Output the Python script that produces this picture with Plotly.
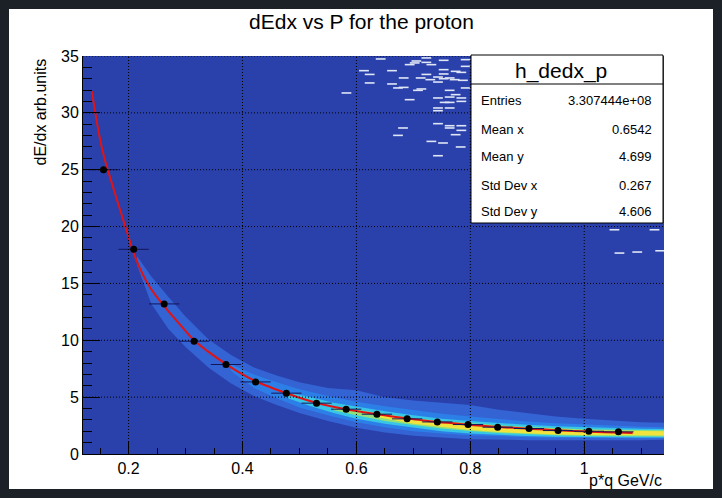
import plotly.graph_objects as go

# ---------------- data ----------------
# profile points (black markers with horizontal error bars)
pts_x = [0.156, 0.209, 0.2625, 0.315, 0.371, 0.423, 0.477, 0.530, 0.582,
         0.636, 0.689, 0.742, 0.796, 0.848, 0.903, 0.954, 1.008, 1.060]
pts_y = [25.0, 18.0, 13.2, 9.92, 7.87, 6.34, 5.35, 4.47, 3.94,
         3.50, 3.09, 2.82, 2.59, 2.36, 2.24, 2.06, 2.00, 1.95]
pts_xerr = [0.0266] * 18

# red fit curve
fit_x = [0.1356, 0.1537, 0.175, 0.195, 0.2133, 0.237, 0.2625, 0.29, 0.315, 0.34,
         0.371, 0.40, 0.423, 0.45, 0.477, 0.50, 0.53, 0.555, 0.582, 0.61, 0.636,
         0.66, 0.689, 0.715, 0.742, 0.77, 0.796, 0.82, 0.848, 0.875, 0.903, 0.93,
         0.954, 0.98, 1.008, 1.035, 1.06, 1.085]
fit_y = [31.9, 26.8, 23.1, 19.9, 17.1, 14.7, 13.0, 11.4, 10.0, 9.0,
         7.9, 7.0, 6.4, 5.85, 5.35, 4.95, 4.5, 4.2, 3.93, 3.7, 3.5,
         3.32, 3.12, 2.97, 2.82, 2.7, 2.58, 2.48, 2.38, 2.3, 2.22, 2.15,
         2.09, 2.03, 1.97, 1.92, 1.88, 1.84]

# 2D histogram band, read as colour-level contours (x, lower edge, upper edge)
lvl1_x = [0.215, 0.24, 0.27, 0.30, 0.34, 0.38, 0.42, 0.46, 0.50, 0.55, 0.60,
          0.65, 0.70, 0.75, 0.80, 0.85, 0.90, 0.95, 1.00, 1.05, 1.10, 1.14]
lvl1_lo = [16.6, 13.2, 11.0, 9.4, 7.6, 6.2, 5.1, 4.3, 3.6, 2.9, 2.3,
           1.9, 1.6, 1.45, 1.3, 1.25, 1.22, 1.2, 1.2, 1.2, 1.22, 1.25]
lvl1_hi = [17.4, 15.6, 13.8, 12.1, 10.1, 8.7, 7.6, 6.9, 6.3, 5.8, 5.6,
           5.0, 4.7, 4.5, 4.3, 3.9, 3.6, 3.3, 3.1, 2.95, 2.8, 2.75]

lvl2_x = [0.38, 0.42, 0.46, 0.50, 0.55, 0.60, 0.65, 0.70, 0.75, 0.80,
          0.85, 0.90, 0.95, 1.00, 1.05, 1.10, 1.14]
lvl2_lo = [7.3, 5.8, 4.9, 4.1, 3.4, 2.8, 2.35, 2.0, 1.8, 1.65,
           1.55, 1.48, 1.42, 1.4, 1.38, 1.38, 1.38]
lvl2_hi = [7.9, 7.0, 6.3, 5.7, 5.1, 4.6, 4.2, 3.85, 3.55, 3.3,
           3.05, 2.85, 2.7, 2.58, 2.48, 2.4, 2.36]

lvl3_x = [0.48, 0.52, 0.56, 0.60, 0.65, 0.70, 0.75, 0.80, 0.85, 0.90,
          0.95, 1.00, 1.05, 1.10, 1.14]
lvl3_lo = [4.9, 4.2, 3.6, 3.1, 2.65, 2.3, 2.0, 1.8, 1.67, 1.58,
           1.52, 1.48, 1.46, 1.45, 1.45]
lvl3_hi = [5.4, 5.0, 4.5, 4.15, 3.75, 3.4, 3.1, 2.9, 2.72, 2.57,
           2.45, 2.36, 2.28, 2.22, 2.2]

lvl4_x = [0.56, 0.60, 0.65, 0.70, 0.75, 0.80, 0.85, 0.90, 0.95, 1.00,
          1.05, 1.10, 1.14]
lvl4_lo = [3.85, 3.4, 2.9, 2.55, 2.25, 2.02, 1.85, 1.73, 1.64, 1.58,
           1.55, 1.54, 1.54]
lvl4_hi = [4.2, 3.9, 3.5, 3.15, 2.9, 2.7, 2.52, 2.38, 2.27, 2.18,
           2.13, 2.1, 2.08]

lvl5_x = [0.64, 0.70, 0.75, 0.80, 0.85, 0.90, 0.95, 1.00, 1.05, 1.10, 1.14]
lvl5_lo = [3.2, 2.65, 2.35, 2.1, 1.93, 1.8, 1.72, 1.66, 1.63, 1.62, 1.62]
lvl5_hi = [3.45, 3.05, 2.8, 2.58, 2.42, 2.28, 2.16, 2.08, 2.04, 2.02, 2.0]

level_colors = ["#3463d4", "#2d7fe8", "#38c6e6", "#8fe07a", "#f2e33c"]

# sparse low-count bins at the top right
out_x = [0.6426, 0.6133, 0.6233, 0.6233, 0.5825, 0.6625, 0.6625, 0.673, 0.683,
         0.683, 0.6935, 0.6818, 0.673, 0.6935, 0.7023, 0.7053, 0.7228, 0.7228,
         0.7316, 0.7128, 0.7081, 0.714, 0.7228, 0.7298, 0.7432, 0.7432, 0.7432,
         0.7432, 0.7432, 0.7432, 0.7532, 0.7532, 0.7532, 0.7532, 0.7637, 0.7637,
         0.7637, 0.7637, 0.7637, 0.7637, 0.7637, 0.7725, 0.7742, 0.7742, 0.7742,
         0.7842, 0.7842, 0.7842, 0.7842, 0.7842, 0.783, 0.7918, 0.7918, 0.7918,
         0.787, 0.752, 0.7432, 0.7316, 0.7549, 1.053, 1.1233, 1.0618, 1.093, 1.1333]
out_y = [34.74, 33.71, 33.38, 32.63, 31.75, 33.71, 32.54, 32.19, 32.24,
         33.07, 31.16, 28.67, 28.02, 34.24, 34.39, 34.56, 34.83, 34.44,
         34.24, 33.07, 31.98, 32.1, 33.38, 32.92, 33.15, 32.71, 31.31,
         30.43, 30.19, 29.05, 34.62, 33.8, 33.42, 33.0, 33.07, 31.98,
         31.39, 30.92, 30.43, 28.87, 28.67, 32.92, 33.65, 31.6, 28.08,
         33.56, 31.31, 31.01, 28.87, 28.46, 27.0, 34.68, 34.09, 32.19,
         32.86, 27.35, 26.23, 27.49, 30.92, 19.72, 19.72, 17.67, 17.76, 17.87]

x_ticks = [0.2, 0.4, 0.6, 0.8, 1.0]
x_ticktext = ["0.2", "0.4", "0.6", "0.8", "1"]
y_ticks = [0, 5, 10, 15, 20, 25, 30, 35]

stats_labels = ["Entries", "Mean x", "Mean y", "Std Dev x", "Std Dev y"]
stats_values = ["3.307444e+08", "0.6542", "4.699", "0.267", "4.606"]

# ---------------- layout geometry (pixels) ----------------
W, H = 722, 498
L, R, T, B = 83, 664, 56, 454
pw, ph = R - L, B - T


def px(x):
    return (x - L) / pw


def py(y):
    return (B - y) / ph


FONT = "Liberation Sans, Arial, Helvetica, sans-serif"

fig = go.Figure()

# band levels as filled contours
levels = [(lvl1_x, lvl1_lo, lvl1_hi), (lvl2_x, lvl2_lo, lvl2_hi),
          (lvl3_x, lvl3_lo, lvl3_hi), (lvl4_x, lvl4_lo, lvl4_hi),
          (lvl5_x, lvl5_lo, lvl5_hi)]
for (lx, lo, hi), col in zip(levels, level_colors):
    fig.add_trace(go.Scatter(
        x=list(lx) + list(lx[::-1]), y=list(hi) + list(lo[::-1]),
        fill="toself", fillcolor=col, line=dict(width=0, color=col),
        mode="lines", hoverinfo="skip", showlegend=False))

# sparse bins
fig.add_trace(go.Scatter(
    x=out_x, y=out_y, mode="markers",
    marker=dict(symbol="line-ew", size=7, line=dict(width=1.6, color="#dfe6f5")),
    hoverinfo="skip", showlegend=False))

# fit curve
fig.add_trace(go.Scatter(
    x=fit_x, y=fit_y, mode="lines", line=dict(color="#e01414", width=2, shape="spline"),
    showlegend=False))

# profile points
fig.add_trace(go.Scatter(
    x=pts_x, y=pts_y, mode="markers",
    marker=dict(color="black", size=7),
    error_x=dict(type="data", array=pts_xerr, color="#14145a", thickness=1, width=0),
    showlegend=False))

shapes = []
# white canvas and blue frame (below traces)
shapes.append(dict(type="rect", xref="paper", yref="paper", layer="below",
                   x0=px(9), x1=px(713), y0=py(489), y1=py(9),
                   fillcolor="white", line=dict(width=0)))
shapes.append(dict(type="rect", xref="paper", yref="paper", layer="below",
                   x0=0, x1=1, y0=0, y1=1, fillcolor="#2a40ab", line=dict(width=0)))
# dotted grid (ROOT draws it over the histogram)
for xv in x_ticks:
    shapes.append(dict(type="line", xref="x", yref="paper", layer="above",
                       x0=xv, x1=xv, y0=0, y1=1,
                       line=dict(color="black", width=1, dash="1px,2px")))
for yv in y_ticks[1:]:
    shapes.append(dict(type="line", xref="paper", yref="y", layer="above",
                       x0=0, x1=1, y0=yv, y1=yv,
                       line=dict(color="black", width=1, dash="1px,2px")))
# stats box
shapes.append(dict(type="rect", xref="paper", yref="paper", layer="above",
                   x0=px(471), x1=px(663), y0=py(223), y1=py(55),
                   fillcolor="white", line=dict(color="black", width=1)))
shapes.append(dict(type="line", xref="paper", yref="paper", layer="above",
                   x0=px(471), x1=px(663), y0=py(84), y1=py(84),
                   line=dict(color="black", width=1)))

annotations = []
annotations.append(dict(text="h_dedx_p", xref="paper", yref="paper",
                        x=px(561), y=py(71), xanchor="center", yanchor="middle",
                        showarrow=False, font=dict(family=FONT, size=21, color="black")))
row_y = [100.5, 129, 156.5, 185, 211.7]
for lab, val, ry in zip(stats_labels, stats_values, row_y):
    annotations.append(dict(text=lab, xref="paper", yref="paper", x=px(479), y=py(ry),
                            xanchor="left", yanchor="middle", showarrow=False,
                            font=dict(family=FONT, size=13, color="black")))
    annotations.append(dict(text=val, xref="paper", yref="paper", x=px(654), y=py(ry),
                            xanchor="right", yanchor="middle", showarrow=False,
                            font=dict(family=FONT, size=13, color="black")))
# axis titles (ROOT style: right/top aligned)
annotations.append(dict(text="dE/dx arb.units", xref="paper", yref="paper",
                        x=px(40), y=py(57), xanchor="center", yanchor="top",
                        textangle=-90, showarrow=False,
                        font=dict(family=FONT, size=16, color="black")))
annotations.append(dict(text="p*q GeV/c", xref="paper", yref="paper",
                        x=px(664), y=py(481), xanchor="right", yanchor="middle",
                        showarrow=False, font=dict(family=FONT, size=16, color="black")))

fig.update_layout(
    width=W, height=H,
    margin=dict(l=L, r=W - R, t=T, b=H - B, pad=0),
    paper_bgcolor="#1c2128",
    plot_bgcolor="rgba(0,0,0,0)",
    title=dict(text="dEdx vs P for the proton", x=361.5 / W, y=1 - 22 / H,
               xref="container", yref="container", xanchor="center", yanchor="middle",
               font=dict(family=FONT, size=21, color="black")),
    shapes=shapes,
    annotations=annotations,
    showlegend=False,
    xaxis=dict(range=[0.12, 1.14], showgrid=False, zeroline=False,
               showline=True, linecolor="black", linewidth=1,
               tickvals=x_ticks, ticktext=x_ticktext,
               ticks="inside", ticklen=12, tickwidth=1, tickcolor="black",
               minor=dict(dtick=0.05, tick0=0, ticks="inside", ticklen=6,
                          tickcolor="black", showgrid=False),
               tickfont=dict(family=FONT, size=16, color="black")),
    yaxis=dict(range=[0, 35], showgrid=False, zeroline=False,
               showline=True, linecolor="black", linewidth=1, mirror=False,
               tickvals=y_ticks,
               ticks="inside", ticklen=17, tickwidth=1, tickcolor="black",
               minor=dict(dtick=1, tick0=0, ticks="inside", ticklen=9,
                          tickcolor="black", showgrid=False),
               tickfont=dict(family=FONT, size=16, color="black")),
)

fig.write_html("out.html", config={"displayModeBar": False},
               post_script="document.body.style.margin='0';")
